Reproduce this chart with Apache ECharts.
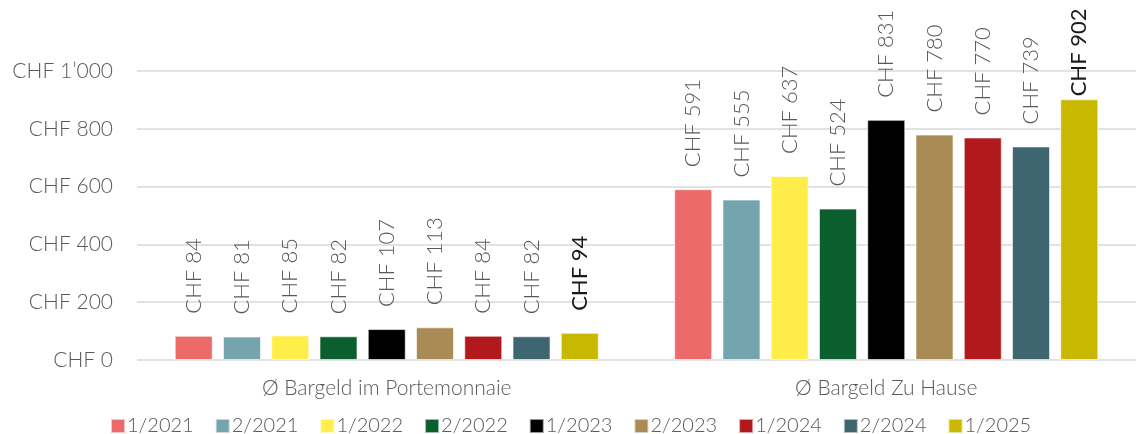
<!DOCTYPE html>
<html>
<head>
<meta charset="utf-8">
<script src="https://cdn.jsdelivr.net/npm/echarts@6/dist/echarts.min.js"></script>
<style>
  html, body { margin: 0; padding: 0; background: #fff; }
  #chart { width: 1136px; height: 434px; }
</style>
</head>
<body>
<div id="chart"></div>
<script>
const categories = ['Ø Bargeld im Portemonnaie', 'Ø Bargeld Zu Hause']
const periods = ['1/2021', '2/2021', '1/2022', '2/2022', '1/2023', '2/2023', '1/2024', '2/2024', '1/2025']
const colors = ['#EC6A6A', '#74A5AF', '#FFED4A', '#0B5E2E', '#000000', '#A88B55', '#B2191C', '#3E6670', '#C8B800']
const values = [
    [84, 591],
    [81, 555],
    [85, 637],
    [82, 524],
    [107, 831],
    [113, 780],
    [84, 770],
    [82, 739],
    [94, 902]
]
const yTicks = [0, 200, 400, 600, 800, 1000]

const font = 'Lato'

function chf(v) {
    let s = String(v)
    if (v >= 1000) s = s.slice(0, -3) + '\u2019' + s.slice(-3)
    return 'CHF ' + s
}

let myChart = echarts.init(document.getElementById('chart'))
myChart.setOption({
    animation: false,
    textStyle: { fontFamily: font },
    legend: {
        bottom: -7,
        left: 105,
        itemWidth: 14,
        itemHeight: 14,
        itemGap: 21,
        icon: 'rect',
        textStyle: { fontSize: 20, color: '#595959', fontWeight: 300, padding: [0, 0, 0, -3] },
        data: periods
    },
    grid: {
        left: 137,
        width: 1008,
        top: 71,
        bottom: 74,
        containLabel: false
    },
    xAxis: {
        type: 'category',
        data: categories,
        axisLine: { show: false },
        axisTick: { show: false },
        axisLabel: { fontSize: 21, color: '#595959', fontWeight: 300, margin: 18 }
    },
    yAxis: {
        type: 'value',
        min: yTicks[0],
        max: yTicks[yTicks.length - 1],
        interval: 200,
        axisLine: { show: false },
        axisTick: { show: false },
        splitLine: { lineStyle: { color: '#D9D9D9', width: 1.5 } },
        axisLabel: {
            fontSize: 21,
            color: '#595959',
            fontWeight: 300,
            margin: 24,
            formatter: chf
        }
    },
    series: periods.map((p, i) => {
        const last = i === periods.length - 1
        return {
            name: p,
            type: 'bar',
            barWidth: 38,
            barGap: '27%',
            itemStyle: { color: colors[i], borderColor: 'rgba(255,255,255,0.6)', borderWidth: 1 },
            label: {
                show: true,
                position: 'top',
                rotate: 90,
                align: 'left',
                verticalAlign: 'middle',
                distance: 22,
                fontSize: 22,
                fontWeight: last ? 'normal' : 300,
                color: last ? '#1a1a1a' : '#595959',
                formatter: (d) => chf(d.value)
            },
            // the top label of the tallest bar sits close to its bar in the source
            data: values[i].map((v, j) => (last && j === 1) ? { value: v, label: { distance: 3 } } : v)
        }
    })
})
window.addEventListener('resize', function() {
    myChart.resize()
})
</script>
</body>
</html>
